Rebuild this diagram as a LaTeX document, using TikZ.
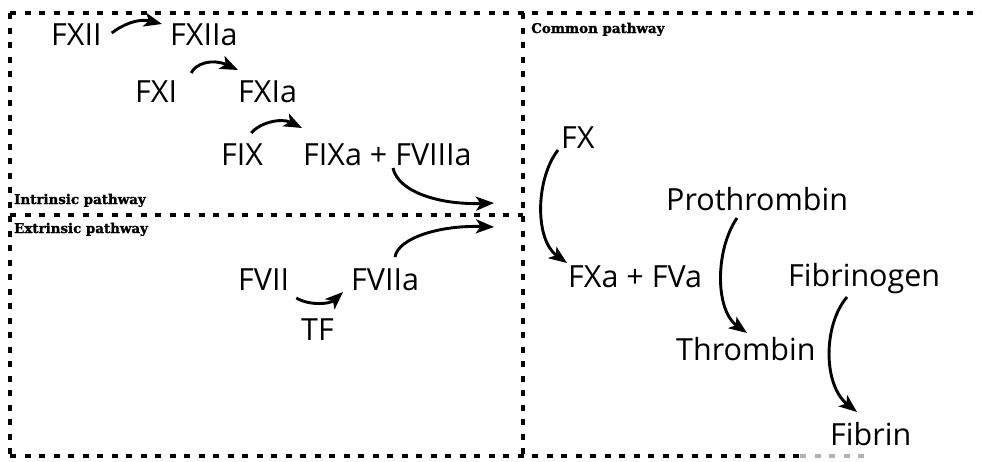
\documentclass[tikz,border=0pt]{standalone}
\usepackage{fontspec}
\setmainfont{Open Sans}
\newfontfamily\labelfont{DejaVu Serif}[BoldFeatures={FakeBold=1.3}]
\usetikzlibrary{arrows.meta,calc}
\tikzset{
  factor/.style={inner sep=0pt, anchor=base west, font=\fontsize{30.5}{30.5}\selectfont},
  panel/.style={font=\labelfont\bfseries\fontsize{13.4}{13.4}\selectfont, inner sep=0pt, anchor=base west},
  border/.style={line width=3.1pt, dash pattern=on 6pt off 8.5pt},
  react/.style={line width=2.9pt, -{Stealth[length=18pt,width=14pt,inset=4.5pt]}}
}
\begin{document}
\begin{tikzpicture}[x=1pt,y=-1pt]
\useasboundingbox (0,0) rectangle (982,461);

% panel borders
\draw[border] (10,13) -- (982,13);
\draw[border] (10,13) -- (10,456);
\draw[border] (10,215) -- (523,215);
\draw[border] (523,13) -- (523,456);
\draw[border] (10,456) -- (800,456);
\draw[border, gray!60] (800,456) -- (870,456);

% panel titles
\node[panel] (tin) at (14,204) {Intrinsic pathway};
\node[panel] (tex) at (14,233) {Extrinsic pathway};
\node[panel] (tco) at (531,33) {Common pathway};

% intrinsic pathway
\node[factor] (fxii)  at (51,45)  {FXII};
\node[factor] (fxiia) at (170,45) {FXIIa};
\node[factor] (fxi)   at (135,102) {FXI};
\node[factor] (fxia)  at (238,102) {FXIa};
\node[factor] (fix)   at (221,165) {FIX};
\node[factor] (fixa)  at (303,165) {FIXa + FVIIIa};

% extrinsic pathway
\node[factor] (fvii)  at (238,290) {FVII};
\node[factor] (fviia) at (351,290) {FVIIa};
\node[factor] (tf)    at (301,340) {TF};

% common pathway
\node[factor] (fx)    at (561,148) {FX};
\node[factor] (fxa)   at (568,287) {FXa + FVa};
\node[factor] (proth) at (666,210) {Prothrombin};
\node[factor] (thr)   at (676,360) {Thrombin};
\node[factor] (fbg)   at (788,286) {Fibrinogen};
\node[factor] (fbn)   at (830,445) {Fibrin};

% entry points into the common pathway
\coordinate (jin) at (494,203);
\coordinate (jex) at (494,227);

% activation arrows
\draw[react] ($(fxii.base east)+(10,-12)$) .. controls (122,25) and (138,18) .. ($(fxiia.base west)+(-8,-21)$);
\draw[react] ($(fxi.base east)+(14,-29)$) .. controls (195,64) and (212,58) .. ($(fxia.base west)+(0,-32)$);
\draw[react] ($(fix.base east)+(-12,-32)$) .. controls (258,124) and (280,117) .. ($(fixa.base west)+(-1,-37)$);
\draw[react] ($(fixa.base west)+(90,3)$) .. controls (398,192) and (440,205) .. (jin);
\draw[react] ($(fviia.base west)+(44,-33)$) .. controls (398,238) and (440,225) .. (jex);
\draw[react] ($(fvii.base east)+(7,8)$) .. controls (310,306) and (330,304) .. ($(fviia.base west)+(-8,2)$);
\draw[react] ($(fx.base west)+(-3,2)$) .. controls (535,180) and (535,240) .. ($(fxa.base west)+(-1,-24)$);
\draw[react] ($(proth.base west)+(71,8)$) .. controls (715,250) and (715,310) .. ($(thr.base west)+(71,-27)$);
\draw[react] ($(fbg.base west)+(59,11)$) .. controls (823,325) and (823,385) .. ($(fbn.base west)+(27,-33)$);
\end{tikzpicture}
\end{document}
